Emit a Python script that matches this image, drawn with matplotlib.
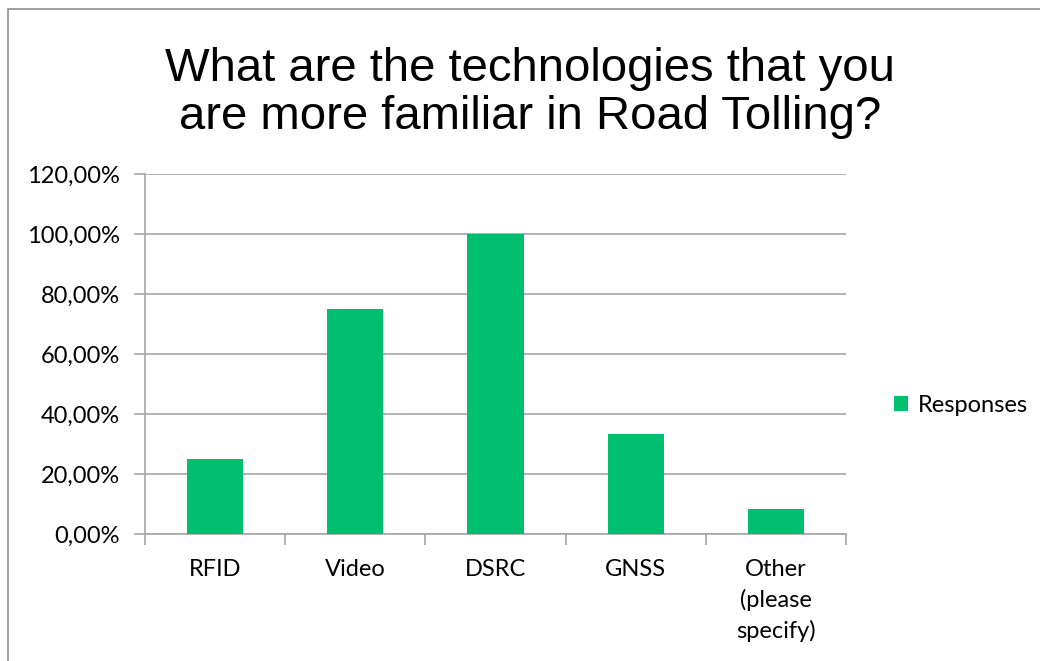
import numpy as np
import matplotlib.pyplot as plt
from matplotlib.patches import Rectangle
from matplotlib.ticker import FuncFormatter

categories = ['RFID', 'Video', 'DSRC', 'GNSS', 'Other\n(please\nspecify)']
responses = [0.25, 0.75, 1.00, 0.3333, 0.0833]
yticks = [0, 0.2, 0.4, 0.6, 0.8, 1.0, 1.2]

green = '#00BF6F'
grid = '#A6A6A6'
lab_font = ['Lato', 'DejaVu Sans']

fig = plt.figure(figsize=(10.4, 6.61), dpi=100)

# outer chart border (runs off the right and bottom edges)
fig.patches.append(Rectangle((8 / 1040, -0.05), 1.2, (661 - 9) / 661 + 0.05,
                             transform=fig.transFigure, fill=False,
                             edgecolor='#8C8C8C', linewidth=1.2))

ax = fig.add_axes([145 / 1040, 1 - 534 / 661, (846 - 145) / 1040, (534 - 174) / 661])

x = np.arange(len(categories))
ax.bar(x, responses, width=0.4, color=green, label='Responses', zorder=3)

ax.set_xlim(-0.5, len(categories) - 0.5)
ax.set_ylim(0, 1.2)
ax.set_yticks(yticks)
ax.yaxis.set_major_formatter(FuncFormatter(lambda v, p: f'{v*100:.2f}%'.replace('.', ',')))
ax.yaxis.grid(True, color=grid, linewidth=1.2, zorder=0)

ax.set_xticks(x)
ax.set_xticklabels(categories, family=lab_font, fontsize=17, linespacing=1.5, va='top')
ax.set_xticks(np.arange(-0.5, len(categories)), minor=True)
ax.tick_params(axis='x', which='major', length=0, pad=18)
ax.tick_params(axis='x', which='minor', length=8, color=grid, width=1.2)
ax.tick_params(axis='y', length=8, color=grid, width=1.2, pad=10)
for t in ax.get_yticklabels():
    t.set_family(lab_font)
    t.set_fontsize(17)

for s in ['top', 'right']:
    ax.spines[s].set_visible(False)
for s in ['left', 'bottom']:
    ax.spines[s].set_color(grid)
    ax.spines[s].set_linewidth(1.2)

fig.text(530 / 1040, 1 - 93 / 661,
         'What are the technologies that you\nare more familiar in Road Tolling?',
         ha='center', va='center', fontsize=34, family='Liberation Sans',
         linespacing=1.1)

leg = fig.legend(loc='center left', bbox_to_anchor=(873 / 1040, 1 - 405 / 661),
                 frameon=False, prop={'family': lab_font, 'size': 17},
                 handlelength=0.6, handleheight=0.6, handletextpad=0.4)

fig.savefig('out.png', dpi=100)
